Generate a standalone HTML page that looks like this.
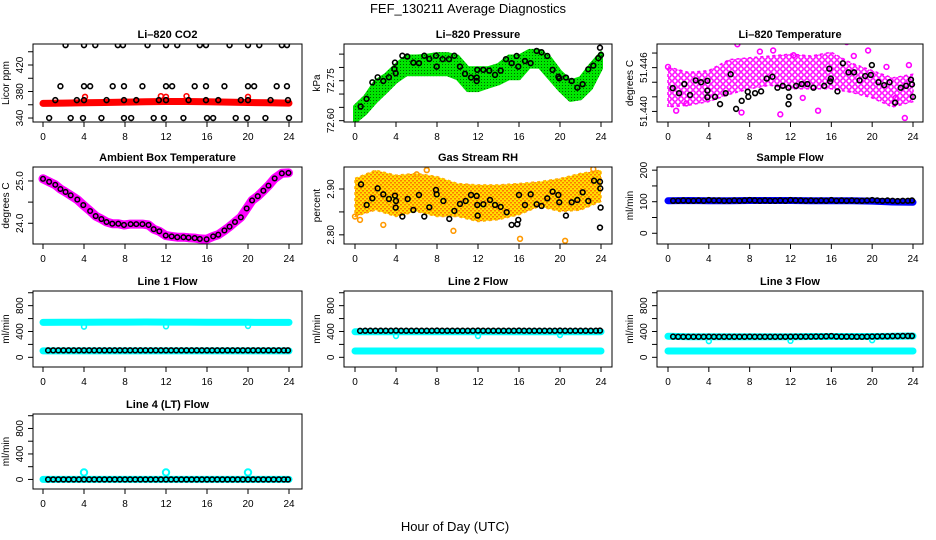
<!DOCTYPE html>
<html><head><meta charset="utf-8"><style>
html,body{margin:0;padding:0;background:#fff;}
svg{display:block;font-family:"Liberation Sans",sans-serif;}
</style></head><body>
<svg id="chart" width="936" height="540" viewBox="0 0 936 540">
<defs>
<pattern id="pGreen" width="3" height="3" patternUnits="userSpaceOnUse"><rect width="3" height="3" fill="#00e600"/><rect x="1" y="1" width="1" height="1" fill="#006600"/></pattern>
<pattern id="pOrange" width="4" height="4" patternUnits="userSpaceOnUse"><rect width="4" height="4" fill="#ffe000"/><rect x="0" y="0" width="2" height="1.5" fill="#ff7a00"/><rect x="2" y="2" width="2" height="1.5" fill="#ff7a00"/></pattern>
<pattern id="pMagenta" width="6" height="6" patternUnits="userSpaceOnUse"><rect width="6" height="6" fill="#ffffff"/><circle cx="3" cy="3" r="2.2" fill="none" stroke="#ff00ff" stroke-width="1.5"/></pattern>
</defs>
<text x="468" y="13" text-anchor="middle" font-size="13">FEF_130211  Average Diagnostics</text>
<text x="455" y="531" text-anchor="middle" font-size="13">Hour of Day (UTC)</text>
</svg>
<script>
// ---------- data ----------
const xTicks = [0,4,8,12,16,20,24];
const flowHours = [0.5,1,1.5,2,2.5,3,3.5,4,4.5,5,5.5,6,6.5,7,7.5,8,8.5,9,9.5,10,10.5,11,11.5,12,12.5,13,13.5,14,14.5,15,15.5,16,16.5,17,17.5,18,18.5,19,19.5,20,20.5,21,21.5,22,22.5,23,23.5,23.9];
const bandHours = [0,2,4,6,8,10,12,14,16,18,20,22,24];
const hourlyHours = [0,1,2,3,4,5,6,7,8,9,10,11,12,13,14,15,16,17,18,19,20,21,22,23,24];

// CO2
const co2Hours = [2.2,4.0,5.1,7.3,7.8,10.2,12.0,13.1,15.3,15.9,18.2,20.0,21.1,23.3,23.8, 1.7,4.0,4.6,6.8,7.9,9.7,12.0,12.6,14.8,15.9,17.7,20.0,20.6,22.8,23.8, 1.2,3.3,4.0,6.2,7.9,9.1,11.3,12.0,14.2,15.9,17.1,19.3,20.0,22.2,23.9, 0.6,2.7,3.9,5.7,7.9,8.6,10.8,11.8,13.7,16.0,16.6,18.8,19.9,21.7,24.0];
const co2Vals = [450,450,450,450,450,450,450,450,450,450,450,450,450,450,450, 388,388,388,388,388,388,388,388,388,388,388,388,388,388,388, 367,367,367,367,367,367,367,367,367,367,367,367,367,367,367, 340,340,340,340,340,340,340,340,340,340,340,340,340,340,340];
const co2Red = [362,362.5,363,363.5,364,364.5,365,365,364.5,364,363.5,363,362.5];
const co2RedOutHours = [4.1,11.5,12.0,14.0,20.0];
const co2RedOutVals = [372,373,372,373,372];

// Pressure
const presHours = [0.55,1.13,1.69,2.21,2.76,3.31,3.84,3.9,3.97,4.62,5.1,5.69,6.24,6.76,7.25,7.9,7.97,8.55,9.17,9.69,10.24,10.73,11.32,11.87,11.93,11.87,12.52,13.1,13.66,14.21,14.73,15.28,15.77,15.93,16.58,17.13,17.72,18.2,18.76,19.28,19.84,19.93,20.58,21.14,21.69,22.21,22.76,23.25,23.74,23.9,24.0];
const presVals = [72.653,72.682,72.744,72.763,72.749,72.763,72.794,72.818,72.778,72.844,72.841,72.818,72.816,72.844,72.832,72.844,72.803,72.831,72.831,72.844,72.803,72.776,72.762,72.762,72.791,72.749,72.791,72.788,72.772,72.788,72.831,72.816,72.843,72.803,72.824,72.816,72.862,72.857,72.843,72.791,72.765,72.759,72.762,72.749,72.724,72.737,72.793,72.807,72.835,72.874,72.847];
const presHi = [72.653,72.690,72.747,72.772,72.809,72.841,72.841,72.844,72.850,72.850,72.841,72.797,72.797,72.797,72.809,72.841,72.841,72.862,72.862,72.835,72.784,72.747,72.759,72.809,72.853];
const presLo = [72.596,72.628,72.672,72.709,72.747,72.774,72.774,72.774,72.774,72.774,72.759,72.715,72.715,72.728,72.740,72.759,72.759,72.803,72.803,72.759,72.715,72.678,72.684,72.722,72.797];

// Li-820 temperature
const tempHours = [0.46,1.08,1.6,2.16,2.71,3.24,3.86,3.86,3.86,4.61,5.1,5.65,6.14,6.67,7.22,7.81,7.87,8.53,9.12,9.67,10.23,10.72,11.24,11.8,11.86,11.8,12.55,13.1,13.66,14.25,14.74,15.3,15.8,15.88,15.95,16.6,17.13,17.68,18.23,18.76,19.32,19.87,19.97,20.62,21.18,21.7,22.25,22.8,23.33,23.8,23.9,24.0];
const tempVals = [51.4432,51.4425,51.44375,51.44225,51.44425,51.444,51.4442,51.44285,51.44195,51.442,51.441,51.4425,51.4451,51.44035,51.44145,51.4427,51.442,51.4425,51.44275,51.4445,51.44475,51.44325,51.4435,51.44325,51.442,51.441,51.4435,51.44375,51.44375,51.44325,51.4497,51.4435,51.44585,51.4441,51.4445,51.44275,51.4466,51.44535,51.44535,51.44425,51.44485,51.445,51.44635,51.444,51.4436,51.444,51.4412,51.44325,51.4435,51.44435,51.4437,51.442];
const tempHi = [51.4461,51.44535,51.4456,51.4471,51.44735,51.4476,51.44785,51.4476,51.4481,51.4466,51.4456,51.4446,51.4451];
const tempLo = [51.4406,51.44085,51.44135,51.44235,51.4431,51.4436,51.4431,51.4431,51.4431,51.4426,51.44185,51.4406,51.44135];
const tempOutHours = [0.0,6.8,7.2,10.3,11.0,12.3,14.7,16.5,17.5,18.2,19.6,21.4,22.3,23.2,23.6,13.2,9.0,0.8,1.8];
const tempOutVals = [51.4461,51.4492,51.43985,51.44835,51.4396,51.4477,51.4401,51.4497,51.4495,51.4476,51.44835,51.4461,51.44185,51.4391,51.44635,51.44185,51.4482,51.4401,51.4411];

// Ambient box temperature
const ambHours = [0.0,0.6,1.2,1.7,2.2,2.7,3.35,3.93,4.6,5.14,5.7,6.2,6.76,7.35,7.9,8.55,9.1,9.7,10.3,10.8,11.35,11.97,12.55,13.1,13.7,14.2,14.8,15.3,15.96,16.6,17.1,17.7,18.2,18.73,19.3,19.87,20.4,20.95,21.5,22.0,22.6,23.3,23.95];
const ambVals = [25.05,24.98,24.91,24.81,24.74,24.66,24.56,24.43,24.29,24.17,24.10,24.03,23.99,23.99,23.96,23.98,23.98,23.98,23.96,23.86,23.81,23.71,23.69,23.67,23.67,23.66,23.65,23.63,23.62,23.69,23.73,23.83,23.92,24.03,24.14,24.35,24.54,24.64,24.77,24.89,25.06,25.18,25.19];

// Gas stream RH
const rhHours = [0.59,1.14,1.69,2.21,2.76,3.31,3.9,3.97,4.0,4.62,5.14,5.69,6.24,6.76,7.25,7.9,7.97,8.62,9.2,9.69,10.24,10.8,11.32,11.87,11.93,11.97,12.52,13.17,13.66,14.21,14.8,15.28,15.84,15.93,16.0,16.58,17.14,17.72,18.2,18.76,19.28,19.84,19.93,20.58,21.14,21.69,22.21,22.76,23.32,23.9,23.93,23.96,23.9];
const rhVals = [2.9101,2.8652,2.8797,2.9014,2.8884,2.8783,2.8855,2.8594,2.8739,2.8399,2.8783,2.8543,2.887,2.8399,2.8601,2.8978,2.8884,2.8739,2.8348,2.8522,2.8674,2.8739,2.887,2.8848,2.8652,2.842,2.8667,2.8761,2.8652,2.8609,2.8493,2.8217,2.8232,2.8326,2.887,2.8652,2.8884,2.8667,2.863,2.8797,2.8942,2.887,2.871,2.842,2.871,2.8761,2.8928,2.8739,2.9181,2.9159,2.9014,2.8594,2.8159];
const rhHi = [2.923,2.941,2.930,2.934,2.927,2.912,2.909,2.909,2.912,2.916,2.923,2.934,2.941];
const rhLo = [2.840,2.854,2.840,2.851,2.840,2.840,2.829,2.833,2.844,2.862,2.851,2.854,2.873];
const rhOutHours = [0.0,0.49,2.76,7.0,6.02,9.6,16.1,20.5,23.25];
const rhOutVals = [2.8399,2.8326,2.8217,2.9413,2.9319,2.8087,2.7913,2.787,2.9435];

// Sample flow
const sampleBlack = [103,103,104,103,103,104,103,105,104,104,103,103,104,103,104,105,104,103,104,103,103,104,103,105,104,104,103,104,103,104,103,105,103,104,103,104,103,103,104,105,104,103,104,103,102,103,103,104];
const sampleBlue = [103,104,103,103,104,104,104,103,103,103,102,99,98];

// Line flows
const line1Black = [108,108,108,108,108,108,108,108,108,108,108,108,108,108,108,108,108,108,108,108,108,108,108,108,108,108,108,108,108,108,108,108,108,108,108,108,108,108,108,108,108,108,108,108,108,108,108,108];
const line1Cyan = [540,543,543,545,545,547,545,546,544,543,542,541,540];
const line1CyanLow = [100,100,100,100,100,100,100,100,100,100,100,100,100];
const line1OutHours = [4,12,20];
const line1OutVals = [475,480,485];

const line2Black = [410,412,412,412,412,412,412,414,412,412,412,412,412,412,412,414,412,412,412,412,412,412,412,414,412,412,412,412,412,412,412,414,412,412,412,412,412,412,412,414,412,412,412,412,412,412,412,414];
const line2Cyan = [395,395,396,396,397,396,396,396,396,397,397,396,396];
const line2CyanLow = [98,98,98,98,98,98,98,98,98,98,98,98,98];
const line2OutHours = [4,12,20];
const line2OutVals = [330,330,345];

const line3Black = [320,318,318,318,318,318,318,320,318,318,318,318,318,318,318,320,318,318,318,318,318,318,318,320,320,320,320,320,322,322,325,328,322,320,320,320,318,318,320,322,324,326,326,328,328,330,330,330];
const line3Cyan = [325,318,318,318,318,320,320,322,322,322,322,326,330];
const line3CyanLow = [98,98,98,98,98,98,98,98,98,98,98,98,98];
const line3OutHours = [4,12,20];
const line3OutVals = [250,255,265];

const line4Black = [0,0,0,0,0,0,0,0,0,0,0,0,0,0,0,0,0,0,0,0,0,0,0,0,0,0,0,0,0,0,0,0,0,0,0,0,0,0,0,0,0,0,0,0,0,0,0,0];
const line4Cyan = [0,0,0,0,0,0,0,0,0,0,0,0,0];
const line4OutHours = [4,12,20];
const line4OutVals = [110,110,110];

// ---------- layout ----------
const NS = "http://www.w3.org/2000/svg";
const svg = document.getElementById('chart');
const cols = [{l:33,r:302,x0:43,x24:289},{l:344,r:612,x0:355,x24:601},{l:657,r:923,x0:668,x24:913}];
const rows = [{t:44,b:122},{t:167,b:244},{t:291,b:367},{t:414,b:489}];

function mk(tag, attrs, parent){
  const e = document.createElementNS(NS, tag);
  for (const k in attrs) e.setAttribute(k, attrs[k]);
  (parent||svg).appendChild(e);
  return e;
}

function panel(name, title, c, r, dom, yTickVals, yLabVals, yLabTexts, yTitle){
  const C = cols[c], R = rows[r];
  const g = mk('g', {});
  
  
  const xs = h => C.x0 + (C.x24 - C.x0) * h / 24;
  const ys = v => R.b - (v - dom[0]) / (dom[1] - dom[0]) * (R.b - R.t);
  const t = mk('text', {x:(C.l+C.r)/2, y:R.t-6, 'text-anchor':'middle', 'font-size':11, 'font-weight':'bold'}, g);
  t.textContent = title;
  
  
  const xa = mk('g', {}, g);
  
  
  xTicks.forEach(h => {
    mk('line', {x1:xs(h), x2:xs(h), y1:R.b, y2:R.b+5, stroke:'#000'}, xa);
    const tl = mk('text', {x:xs(h), y:R.b+18, 'text-anchor':'middle', 'font-size':10}, xa);
    tl.textContent = h;
    
    
  });
  const ya = mk('g', {}, g);
  
  
  yTickVals.forEach(v => mk('line', {x1:C.l-5, x2:C.l, y1:ys(v), y2:ys(v), stroke:'#000'}, ya));
  yLabVals.forEach((v, i) => {
    const px = C.l - 10, py = ys(v);
    const tl = mk('text', {x:px, y:py, 'text-anchor':'middle', 'font-size':10, transform:`rotate(-90 ${px} ${py})`}, ya);
    tl.textContent = yLabTexts[i];
    
    
  });
  const yt = mk('text', {x:C.l-24, y:(R.t+R.b)/2, 'text-anchor':'middle', 'font-size':10, transform:`rotate(-90 ${C.l-24} ${(R.t+R.b)/2})`}, g);
  yt.textContent = yTitle;
  
  
  const clipId = 'clip-' + name;
  const cp = mk('clipPath', {id:clipId}, g);
  mk('rect', {x:C.l, y:R.t, width:C.r-C.l, height:R.b-R.t}, cp);
  const plot = mk('g', {'clip-path':`url(#${clipId})`}, g);
  
  
  const box = mk('rect', {x:C.l, y:R.t, width:C.r-C.l, height:R.b-R.t, fill:'none', stroke:'#000', 'stroke-width':1}, g);
  
  
  return {xs, ys, plot};
}

function points(P, hs, vs, color, nm, rr, sw){
  const gg = mk('g', {}, P.plot);
  
  
  hs.forEach((h, i) => {
    const c = mk('circle', {cx:P.xs(h), cy:P.ys(vs[i]), r:rr||2.4, fill:'none', stroke:color, 'stroke-width':sw||1.6}, gg);
    
    
  });
}
function thickLine(P, hs, vs, color, w, nm){
  const d = hs.map((h, i) => (i ? 'L' : 'M') + P.xs(h).toFixed(1) + ',' + P.ys(vs[i]).toFixed(1)).join('');
  const p = mk('path', {d, fill:'none', stroke:color, 'stroke-width':w, 'stroke-linecap':'round', 'stroke-linejoin':'round'}, P.plot);
  
  
}
function band(P, hs, hi, lo, fill, nm, edge){
  let d = hs.map((h, i) => (i ? 'L' : 'M') + P.xs(h).toFixed(1) + ',' + P.ys(hi[i]).toFixed(1)).join('');
  for (let i = hs.length - 1; i >= 0; i--) d += 'L' + P.xs(hs[i]).toFixed(1) + ',' + P.ys(lo[i]).toFixed(1);
  const p = mk('path', {d: d + 'Z', fill, stroke:edge||fill, 'stroke-width':edge?1.5:4, 'stroke-dasharray':edge?'3 3':'none', 'stroke-linejoin':'round'}, P.plot);
  
  
}

let P = panel('co2', 'Li–820 CO2', 0, 0, [334, 451.7], [340,360,380,400,420,440], [340,380,420], ['340','380','420'], 'Licor ppm');
thickLine(P, bandHours, co2Red, '#ff0000', 7, 'co2-red-series');
points(P, co2RedOutHours, co2RedOutVals, '#ff0000', 'co2-red-outliers');
points(P, co2Hours, co2Vals, '#000', 'co2-black-series');

P = panel('pressure', 'Li–820 Pressure', 1, 0, [72.595, 72.888], [72.60,72.65,72.70,72.75,72.80,72.85], [72.60,72.75], ['72.60','72.75'], 'kPa');
band(P, hourlyHours, presHi, presLo, 'url(#pGreen)', 'pressure-green-series');
points(P, presHours, presVals, '#000', 'pressure-black-series');

P = panel('li820-temp', 'Li–820 Temperature', 2, 0, [51.43855, 51.44924], [51.440,51.442,51.444,51.446,51.448], [51.440,51.446], ['51.440','51.446'], 'degrees C');
band(P, bandHours, tempHi, tempLo, 'url(#pMagenta)', 'temp-magenta-series', '#ff00ff');
points(P, tempOutHours, tempOutVals, '#ff00ff', 'temp-magenta-outliers');
points(P, tempHours, tempVals, '#000', 'temp-black-series');

P = panel('ambient', 'Ambient Box Temperature', 0, 1, [23.51, 25.33], [24.0,24.5,25.0], [24.0,25.0], ['24.0','25.0'], 'degrees C');
thickLine(P, ambHours, ambVals, '#ff00ff', 9, 'ambient-magenta-series');
points(P, ambHours, ambVals, '#000', 'ambient-black-series', 2.3, 1.5);

P = panel('rh', 'Gas Stream RH', 1, 1, [2.780, 2.948], [2.80,2.85,2.90], [2.80,2.90], ['2.80','2.90'], 'percent');
band(P, bandHours, rhHi, rhLo, 'url(#pOrange)', 'rh-orange-series', '#ffb000');
points(P, rhOutHours, rhOutVals, '#ff9900', 'rh-orange-outliers');
points(P, rhHours, rhVals, '#000', 'rh-black-series');

P = panel('sample-flow', 'Sample Flow', 2, 1, [-34, 210], [0,50,100,150,200], [0,100,200], ['0','100','200'], 'ml/min');
thickLine(P, bandHours, sampleBlue, '#0000ff', 7, 'sample-blue-series');
points(P, flowHours, sampleBlack, '#000', 'sample-black-series');

const flowTicks = [0,200,400,600,800,1000];
P = panel('line1', 'Line 1 Flow', 0, 2, [-150, 1027], flowTicks, [0,400,800], ['0','400','800'], 'ml/min');
thickLine(P, bandHours, line1Cyan, '#00ffff', 7, 'line1-cyan-series');
thickLine(P, bandHours, line1CyanLow, '#00ffff', 7, 'line1-cyan-low-series');
points(P, line1OutHours, line1OutVals, '#00ffff', 'line1-cyan-outliers');
points(P, flowHours, line1Black, '#000', 'line1-black-series');

P = panel('line2', 'Line 2 Flow', 1, 2, [-150, 1027], flowTicks, [0,400,800], ['0','400','800'], 'ml/min');
thickLine(P, bandHours, line2Cyan, '#00ffff', 7, 'line2-cyan-series');
thickLine(P, bandHours, line2CyanLow, '#00ffff', 7, 'line2-cyan-low-series');
points(P, line2OutHours, line2OutVals, '#00ffff', 'line2-cyan-outliers');
points(P, flowHours, line2Black, '#000', 'line2-black-series');

P = panel('line3', 'Line 3 Flow', 2, 2, [-150, 1027], flowTicks, [0,400,800], ['0','400','800'], 'ml/min');
thickLine(P, bandHours, line3Cyan, '#00ffff', 7, 'line3-cyan-series');
thickLine(P, bandHours, line3CyanLow, '#00ffff', 7, 'line3-cyan-low-series');
points(P, line3OutHours, line3OutVals, '#00ffff', 'line3-cyan-outliers');
points(P, flowHours, line3Black, '#000', 'line3-black-series');

P = panel('line4', 'Line 4 (LT) Flow', 0, 3, [-150, 1027], flowTicks, [0,400,800], ['0','400','800'], 'ml/min');
thickLine(P, bandHours, line4Cyan, '#00ffff', 7, 'line4-cyan-series');
points(P, line4OutHours, line4OutVals, '#00ffff', 'line4-cyan-outliers', 3.2, 2);
points(P, flowHours, line4Black, '#000', 'line4-black-series');
</script>
</body></html>
